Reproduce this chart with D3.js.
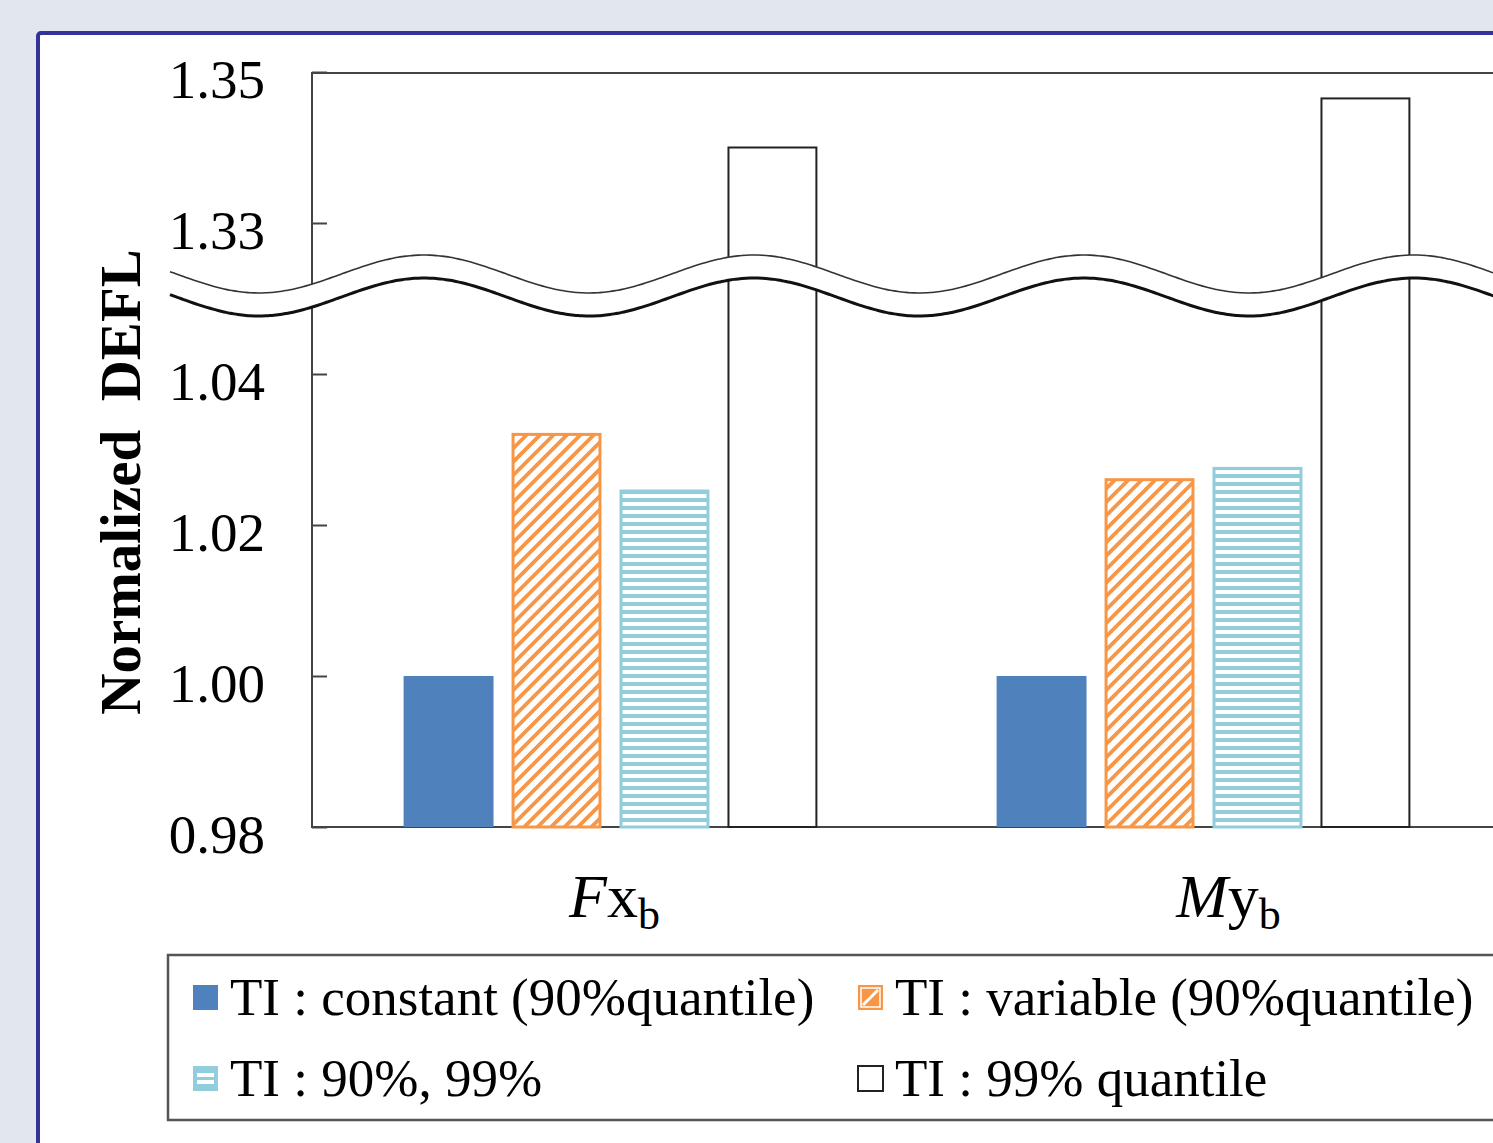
<!DOCTYPE html>
<html>
<head>
<meta charset="utf-8">
<script src="https://cdn.jsdelivr.net/npm/d3@7"></script>
<style>
  body { margin: 0; background: #e2e6ef; }
  svg { display: block; }
  text { font-family: "Liberation Serif", "Times New Roman", serif; fill: #000; }
</style>
</head>
<body>
<script>
// data
var categories = ["Fx", "My"];
var catMain = ["F", "M"];
var catSub1 = ["x", "y"];
var seriesKeys = ["constant", "variable", "both", "q99"];
var seriesLabels = ["TI : constant (90%quantile)", "TI : variable (90%quantile)", "TI : 90%, 99%", "TI : 99% quantile"];
var constant90 = [1.000, 1.000];
var variable90 = [1.032, 1.026];
var ti9099 = [1.0245, 1.0275];
var quantile99 = [1.340, 1.3465];
var yTicks = [0.98, 1.00, 1.02, 1.04, 1.33, 1.35];

var W = 1493, H = 1143;
var plot = {left: 312, top: 73, bottom: 827};

var svg = d3.select("body").append("svg")
    .attr("width", W)
    .attr("height", H);

var defs = svg.append("defs");
// orange diagonal hatch
defs.append("pattern")
    .attr("id", "hatch")
    .attr("patternUnits", "userSpaceOnUse")
    .attr("width", 9.5).attr("height", 9.5)
    .attr("patternTransform", "rotate(45)")
  .append("rect")
    .attr("x", 0).attr("y", 0)
    .attr("width", 3.8).attr("height", 9.5)
    .attr("fill", "#f79646");
// light blue horizontal stripes
var stripe = defs.append("pattern")
    .attr("id", "stripes")
    .attr("patternUnits", "userSpaceOnUse")
    .attr("width", 8).attr("height", 8);
stripe.append("rect").attr("width", 8).attr("height", 8).attr("fill", "#fff");
stripe.append("rect").attr("x", 0).attr("y", 2).attr("width", 8).attr("height", 4).attr("fill", "#92cddc");

// white panel with blue border
svg.append("rect")
    .attr("x", 38).attr("y", 33)
    .attr("width", 1520).attr("height", 1200)
    .attr("rx", 3)
    .attr("fill", "#fff")
    .attr("stroke", "#333399")
    .attr("stroke-width", 4);

// y scale with a break between 1.05 and 1.32
var y = d3.scaleLinear()
    .domain([0.98, 1.05, 1.32, 1.35])
    .range([plot.bottom, 298.5, 298.5, 72]);

var x0 = d3.scaleBand()
    .domain(categories)
    .range([314, 1500]);
var x1 = d3.scaleBand()
    .domain(seriesKeys)
    .range([0, x0.bandwidth()])
    .paddingInner(0.167)
    .paddingOuter(0.83);

var fills = {constant: "#4f81bd", variable: "url(#hatch)", both: "url(#stripes)", q99: "#fff"};
var strokes = {constant: "none", variable: "#f79646", both: "#92cddc", q99: "#222"};
var swidth = {constant: 0, variable: 3, both: 3, q99: 2};

// frame of the plot area
svg.append("rect")
    .attr("x", plot.left).attr("y", plot.top)
    .attr("width", 1400).attr("height", plot.bottom - plot.top)
    .attr("fill", "none")
    .attr("stroke", "#444")
    .attr("stroke-width", 2);

// bars
var rows = categories.map(function(c, i) {
    return {cat: c, constant: constant90[i], variable: variable90[i], both: ti9099[i], q99: quantile99[i]};
});
var groups = svg.selectAll("g.grp")
    .data(rows)
  .enter().append("g")
    .attr("class", "grp")
    .attr("transform", function(d) { return "translate(" + x0(d.cat) + ",0)"; });
groups.selectAll("rect")
    .data(function(d) { return seriesKeys.map(function(k) { return {key: k, value: d[k]}; }); })
  .enter().append("rect")
    .attr("x", function(d) { return x1(d.key) + swidth[d.key] / 2; })
    .attr("y", function(d) { return y(d.value); })
    .attr("width", function(d) { return x1.bandwidth() - swidth[d.key]; })
    .attr("height", function(d) { return plot.bottom - y(d.value); })
    .attr("fill", function(d) { return fills[d.key]; })
    .attr("stroke", function(d) { return strokes[d.key]; })
    .attr("stroke-width", function(d) { return swidth[d.key]; });

// y axis, ticks pointing inward
var yAxis = svg.append("g")
    .attr("transform", "translate(" + plot.left + ",0)")
    .call(d3.axisLeft(y).tickValues(yTicks).tickFormat(d3.format(".2f"))
        .tickSizeInner(-15).tickSizeOuter(0).tickPadding(47));
yAxis.select(".domain").remove();
yAxis.selectAll(".tick line").attr("stroke", "#444").attr("stroke-width", 2);
yAxis.selectAll(".tick text")
    .attr("dy", "0.47em")
    .style("font-size", "55px")
    .style("font-family", "'Liberation Serif', serif");

// axis break: white band between two wavy lines
var waveX = d3.range(170, 1510, 4);
var wave = function(c) {
    return function(px) { return c - 19 * Math.cos(2 * Math.PI * (px - 424) / 330); };
};
var upper = wave(274), lower = wave(297);
svg.append("path")
    .attr("d", d3.area().x(function(d) { return d; }).y0(lower).y1(upper).curve(d3.curveBasis)(waveX))
    .attr("fill", "#fff");
svg.append("path")
    .attr("d", d3.line().x(function(d) { return d; }).y(upper).curve(d3.curveBasis)(waveX))
    .attr("fill", "none").attr("stroke", "#333").attr("stroke-width", 1.6);
svg.append("path")
    .attr("d", d3.line().x(function(d) { return d; }).y(lower).curve(d3.curveBasis)(waveX))
    .attr("fill", "none").attr("stroke", "#111").attr("stroke-width", 3);

// category labels (second one sits a bit right of its group in the original)
var xl = svg.selectAll("text.xlab")
    .data(categories)
  .enter().append("text")
    .attr("class", "xlab")
    .attr("x", function(d, i) { return x0(d) + x0.bandwidth() / 2 + (i ? 25 : 4); })
    .attr("y", 917)
    .attr("text-anchor", "middle")
    .style("font-size", "62px");
xl.append("tspan").style("font-style", "italic").text(function(d, i) { return catMain[i]; });
xl.append("tspan").text(function(d, i) { return catSub1[i]; });
xl.append("tspan").attr("dy", 12).style("font-size", "44px").text("b");

// y axis title
svg.append("text")
    .attr("transform", "translate(140,482) rotate(-90)")
    .attr("text-anchor", "middle")
    .style("font-size", "57px")
    .style("font-weight", "bold")
    .style("white-space", "pre")
    .text("Normalized  DEFL");

// legend
svg.append("rect")
    .attr("x", 168).attr("y", 955)
    .attr("width", 1400).attr("height", 165)
    .attr("fill", "#fff")
    .attr("stroke", "#555")
    .attr("stroke-width", 2.5);

var legPos = [[193, 985], [858, 985], [193, 1066], [858, 1066]];
var legFill = {constant: "#4f81bd", variable: "#f79646", both: "#92cddc", q99: "#fff"};
var leg = svg.selectAll("g.leg")
    .data(seriesKeys)
  .enter().append("g")
    .attr("class", "leg")
    .attr("transform", function(d, i) { return "translate(" + legPos[i][0] + "," + legPos[i][1] + ")"; });
leg.append("rect")
    .attr("width", 25).attr("height", 25)
    .attr("fill", function(d) { return legFill[d]; })
    .attr("stroke", function(d) { return d == "q99" ? "#222" : "none"; })
    .attr("stroke-width", 2);
// little marks inside the pattern swatches
leg.filter(function(d) { return d == "variable"; })
  .append("path")
    .attr("d", "M5,20L20,5")
    .attr("stroke", "#fff").attr("stroke-width", 3);
leg.filter(function(d) { return d == "variable"; })
  .append("rect")
    .attr("x", 3).attr("y", 3).attr("width", 19).attr("height", 19)
    .attr("fill", "none").attr("stroke", "#fff").attr("stroke-width", 1.5);
leg.filter(function(d) { return d == "both"; })
  .selectAll("rect.ln")
    .data([7, 14])
  .enter().append("rect")
    .attr("class", "ln")
    .attr("x", 4).attr("y", function(d) { return d; })
    .attr("width", 17).attr("height", 4)
    .attr("fill", "#fff");
leg.append("text")
    .attr("x", 37)
    .attr("y", 30)
    .style("font-size", "53px")
    .text(function(d, i) { return seriesLabels[i]; });
</script>
</body>
</html>
